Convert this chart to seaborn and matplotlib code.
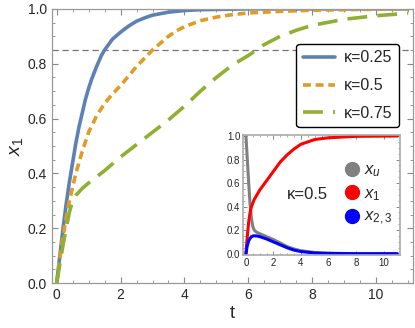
import matplotlib
matplotlib.use("Agg")
import matplotlib.pyplot as plt
from matplotlib.ticker import MultipleLocator
import seaborn as sns
import pandas as pd

# main panel: x_1(t) for three kappa values
t_025 = [0, 0.1, 0.2, 0.3, 0.4, 0.5, 0.6, 0.7, 0.8, 0.9, 1.0, 1.1, 1.25, 1.4, 1.5, 1.75,
         2.0, 2.25, 2.5, 2.75, 3.0, 3.5, 4.0, 4.5, 5.0, 6.0, 8.0, 11.0]
x_025 = [0, 0.1, 0.2, 0.29, 0.37, 0.44, 0.51, 0.57, 0.62, 0.67, 0.71, 0.745, 0.79, 0.83, 0.85, 0.89,
         0.915, 0.937, 0.955, 0.967, 0.977, 0.988, 0.994, 0.997, 0.998, 1.0, 1.0, 1.0]

t_05 = [0, 0.1, 0.2, 0.3, 0.4, 0.5, 0.6, 0.7, 0.8, 0.9, 1.0, 1.25, 1.5, 1.75, 2.0, 2.25, 2.5,
        2.75, 3.0, 3.25, 3.5, 3.75, 4.0, 4.5, 5.0, 5.5, 6.0, 7.0, 8.0, 9.0, 11.0]
x_05 = [0, 0.09, 0.17, 0.24, 0.3, 0.35, 0.4, 0.44, 0.48, 0.515, 0.55, 0.61, 0.655, 0.69, 0.72, 0.755, 0.79,
        0.82, 0.85, 0.875, 0.9, 0.92, 0.935, 0.957, 0.97, 0.979, 0.985, 0.991, 0.995, 0.997, 1.0]

t_075 = [0, 0.1, 0.2, 0.3, 0.4, 0.5, 0.6, 0.8, 1.0, 1.5, 2.0, 2.5, 3.0, 3.5, 4.0, 4.5, 5.0, 5.5,
         6.0, 6.5, 7.0, 7.5, 8.0, 9.0, 10.0, 11.0]
x_075 = [0, 0.07, 0.14, 0.2, 0.26, 0.3, 0.32, 0.345, 0.365, 0.41, 0.46, 0.505, 0.55, 0.595, 0.645, 0.7,
         0.75, 0.795, 0.83, 0.87, 0.9, 0.922, 0.94, 0.962, 0.975, 0.984]

kappas = ["κ=0.25", "κ=0.5", "κ=0.75"]
threshold = 0.85

# inset: kappa = 0.5 populations
t_in = [0, 0.1, 0.2, 0.3, 0.4, 0.5, 0.6, 0.8, 1.0, 1.5, 2.0, 2.5, 3.0, 3.5, 4.0, 5.0, 6.0, 8.0, 11.0]
xu_in = [1.0, 0.8, 0.6, 0.42, 0.3, 0.23, 0.2, 0.18, 0.17, 0.145, 0.12, 0.09, 0.06, 0.04, 0.025, 0.01, 0.004, 0.0, 0.0]
x1_in = [0, 0.15, 0.27, 0.35, 0.4, 0.43, 0.46, 0.5, 0.54, 0.62, 0.7, 0.78, 0.84, 0.89, 0.93, 0.97, 0.985, 0.997, 1.0]
x23_in = [0, 0.07, 0.11, 0.13, 0.145, 0.15, 0.152, 0.15, 0.145, 0.125, 0.1, 0.075, 0.05, 0.03, 0.018, 0.006, 0.002, 0.0, 0.0]
inset_labels = ["$x_u$", "$x_1$", "$x_{2,3}$"]

sns.set_style("ticks")
plt.rcParams["font.family"] = ["Liberation Sans", "DejaVu Sans"]
plt.rcParams["mathtext.fontset"] = "custom"
plt.rcParams["mathtext.it"] = "Liberation Sans:italic"
plt.rcParams["mathtext.rm"] = "Liberation Sans"

main = pd.concat([
    pd.DataFrame({"t": t_025, "x": x_025, "k": kappas[0]}),
    pd.DataFrame({"t": t_05, "x": x_05, "k": kappas[1]}),
    pd.DataFrame({"t": t_075, "x": x_075, "k": kappas[2]}),
])

colors = ["#5E81B5", "#E19C24", "#8FB032"]
dashes = {kappas[0]: "", kappas[1]: (2.2, 1.3), kappas[2]: (5.5, 2.8)}

fig = plt.figure(figsize=(4.15, 3.28), dpi=100)
ax = fig.add_axes([0.125, 0.137, 0.870, 0.836])

ax.axhline(threshold, color="#777777", lw=0.9, ls=(0, (5, 3)), zorder=1)
sns.lineplot(data=main, x="t", y="x", hue="k", style="k", palette=colors,
             dashes=dashes, lw=2.6, ax=ax, estimator=None, sort=True)

ax.set_xlim(-0.15, 11.15)
ax.set_ylim(0, 1)
ax.xaxis.set_major_locator(MultipleLocator(2))
ax.xaxis.set_minor_locator(MultipleLocator(0.5))
ax.yaxis.set_major_locator(MultipleLocator(0.2))
ax.yaxis.set_minor_locator(MultipleLocator(0.05))
ax.tick_params(which="both", direction="in", top=True, right=True, color="#888888")
ax.tick_params(which="major", length=4, labelsize=10, width=0.8)
ax.tick_params(which="minor", length=2, width=0.6)
for s in ax.spines.values():
    s.set_color("#999999")
    s.set_linewidth(0.9)
ax.set_xlabel("t", fontsize=13, labelpad=2)
ax.set_ylabel("$x_1$", fontsize=14, labelpad=2)

leg = ax.legend(loc="upper right", bbox_to_anchor=(0.962, 0.872), fontsize=11.5,
                handlelength=2.0, frameon=True, fancybox=True, labelspacing=0.8,
                borderpad=0.4, handletextpad=0.6, borderaxespad=0)
leg.get_frame().set_edgecolor("black")
leg.get_frame().set_linewidth(1.0)
leg.get_frame().set_alpha(1)

# inset
ins = fig.add_axes([0.586, 0.223, 0.378, 0.366])
inset = pd.concat([
    pd.DataFrame({"t": t_in, "x": xu_in, "s": inset_labels[0]}),
    pd.DataFrame({"t": t_in, "x": x1_in, "s": inset_labels[1]}),
    pd.DataFrame({"t": t_in, "x": x23_in, "s": inset_labels[2]}),
])
sns.lineplot(data=inset, x="t", y="x", hue="s", palette=["#808080", "#FF0000", "#0000FF"],
             lw=2.2, ax=ins, estimator=None, legend=False)
ins.set_xlim(-0.2, 11.2)
ins.set_ylim(-0.01, 1.01)
ins.xaxis.set_major_locator(MultipleLocator(2))
ins.xaxis.set_minor_locator(MultipleLocator(0.5))
ins.yaxis.set_major_locator(MultipleLocator(0.2))
ins.yaxis.set_minor_locator(MultipleLocator(0.05))
ins.tick_params(which="both", direction="in", top=True, right=True, color="#888888")
ins.tick_params(which="major", length=3, labelsize=7, width=0.7, pad=2)
ins.tick_params(which="minor", length=1.5, width=0.5)
for s in ins.spines.values():
    s.set_color("#aaaaaa")
    s.set_linewidth(1.2)
ins.set_xlabel("")
ins.set_ylabel("")

ins.text(3.0, 0.5, "κ=0.5", fontsize=12, va="center", ha="left")
for lab, col, yy in zip(inset_labels, ["#808080", "#FF0000", "#0000FF"], [0.72, 0.52, 0.32]):
    ins.plot([7.7], [yy], "o", ms=10, color=col)
    ins.text(8.6, yy - 0.02, lab, fontsize=12, va="center", ha="left")

fig.savefig("out.png", dpi=100)
